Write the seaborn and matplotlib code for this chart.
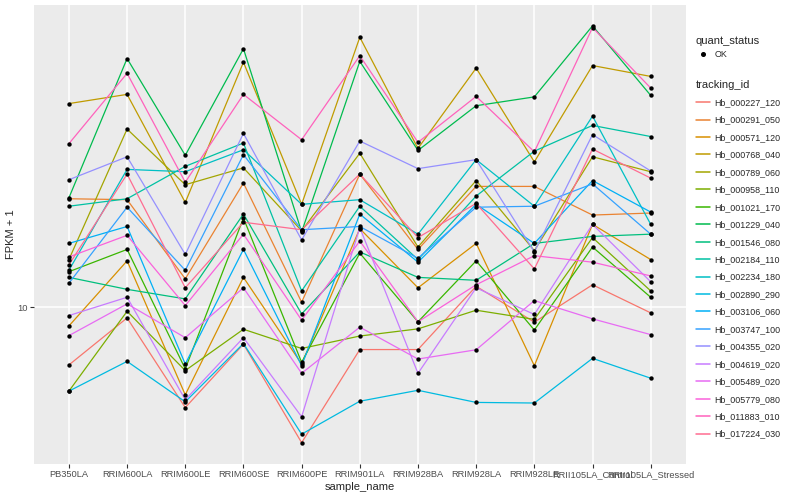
import pandas as pd
import seaborn as sns
import matplotlib.pyplot as plt
from matplotlib.lines import Line2D
from matplotlib.ticker import NullLocator

samples = ["PB350LA", "RRIM600LA", "RRIM600LE", "RRIM600SE", "RRIM600PE", "RRIM901LA",
           "RRIM928BA", "RRIM928LA", "RRIM928LE", "RRII105LA_Control", "RRII105LA_Stressed"]

tracking_ids = ["Hb_000227_120", "Hb_000291_050", "Hb_000571_120", "Hb_000768_040",
                "Hb_000789_060", "Hb_000958_110", "Hb_001021_170", "Hb_001229_040",
                "Hb_001546_080", "Hb_002184_110", "Hb_002234_180", "Hb_002890_290",
                "Hb_003106_060", "Hb_003747_100", "Hb_004355_020", "Hb_004619_020",
                "Hb_005489_020", "Hb_005779_080", "Hb_011883_010", "Hb_017224_030"]

# ggplot default hue palette for 20 levels
colors = ["#F8766D", "#EA8331", "#D89000", "#C09B00", "#A3A500", "#7CAE00", "#39B600",
          "#00BB4E", "#00BF7D", "#00C1A3", "#00BFC4", "#00BAE0", "#00B0F6", "#35A2FF",
          "#9590FF", "#C77CFF", "#E76BF3", "#FA62DB", "#FF62BC", "#FF6C91"]

# FPKM + 1 per sample, in the order of samples
hb_000227_120 = [7.15, 9.40, 5.58, 8.07, 4.55, 7.82, 7.82, 11.3, 9.17, 11.4, 9.68]
hb_000291_050 = [18.8, 18.7, 11.8, 20.6, 10.3, 21.7, 14.0, 20.2, 20.2, 17.1, 17.3]
hb_000571_120 = [8.97, 13.1, 6.01, 11.9, 7.19, 15.8, 11.2, 14.5, 7.12, 16.2, 13.2]
hb_000768_040 = [32.7, 34.5, 18.4, 41.6, 18.2, 48.1, 25.2, 40.2, 23.3, 40.8, 38.3]
hb_000789_060 = [13.2, 28.2, 20.4, 22.5, 15.6, 24.5, 14.2, 20.9, 13.9, 24.0, 22.0]
hb_000958_110 = [6.14, 9.77, 6.92, 8.80, 7.87, 8.46, 8.82, 9.83, 9.32, 15.0, 11.0]
hb_001021_170 = [12.3, 14.0, 6.99, 16.8, 7.26, 13.7, 9.19, 13.1, 8.76, 14.2, 10.6]
hb_001229_040 = [18.9, 42.5, 24.2, 45.0, 15.5, 41.8, 24.9, 32.3, 34.0, 51.4, 34.3]
hb_001546_080 = [11.9, 11.1, 10.5, 17.2, 9.62, 13.8, 11.9, 11.7, 14.5, 15.1, 15.3]
hb_002184_110 = [18.0, 18.8, 22.7, 26.0, 11.0, 18.0, 13.2, 19.1, 24.8, 28.8, 27.0]
hb_002234_180 = [12.4, 22.3, 22.0, 25.0, 18.2, 18.7, 15.3, 23.6, 18.0, 30.4, 16.2]
hb_002890_290 = [6.14, 7.30, 5.77, 8.10, 4.78, 5.79, 6.17, 5.75, 5.73, 7.43, 6.62]
hb_003106_060 = [14.5, 16.0, 7.19, 14.0, 7.12, 17.2, 13.0, 18.2, 14.5, 20.9, 17.4]
hb_003747_100 = [11.5, 17.9, 12.4, 24.3, 15.7, 16.0, 13.3, 17.9, 18.0, 20.5, 15.3]
hb_004355_020 = [21.0, 24.0, 13.6, 27.5, 14.8, 26.3, 22.4, 23.6, 13.8, 27.3, 22.1]
hb_004619_020 = [9.53, 10.6, 5.84, 8.38, 5.29, 15.9, 6.81, 11.2, 9.59, 16.2, 11.6]
hb_005489_020 = [8.48, 10.2, 8.38, 11.2, 6.81, 8.91, 7.40, 7.81, 10.4, 9.35, 8.53]
hb_005779_080 = [13.4, 15.2, 10.1, 15.3, 9.28, 14.7, 9.19, 11.4, 13.5, 13.0, 12.0]
hb_011883_010 = [25.9, 39.0, 20.7, 34.5, 26.5, 43.2, 26.1, 34.1, 24.7, 50.9, 35.8]
hb_017224_030 = [12.8, 21.7, 11.2, 16.4, 15.7, 21.7, 15.0, 18.3, 12.5, 25.1, 21.2]

series = [hb_000227_120, hb_000291_050, hb_000571_120, hb_000768_040, hb_000789_060,
          hb_000958_110, hb_001021_170, hb_001229_040, hb_001546_080, hb_002184_110,
          hb_002234_180, hb_002890_290, hb_003106_060, hb_003747_100, hb_004355_020,
          hb_004619_020, hb_005489_020, hb_005779_080, hb_011883_010, hb_017224_030]

rows = []
for tid, vals in zip(tracking_ids, series):
    for s, v in zip(samples, vals):
        rows.append({"tracking_id": tid, "sample_name": s, "fpkm": v, "quant_status": "OK"})
df = pd.DataFrame(rows)
df["pos"] = pd.Categorical(df["sample_name"], categories=samples).codes

sns.set_theme(style="darkgrid", rc={
    "axes.facecolor": "#EBEBEB",
    "grid.color": "white",
    "grid.linewidth": 1.1,
    "xtick.color": "#333333",
    "ytick.color": "#333333",
})
plt.rcParams["font.family"] = ["Liberation Sans", "DejaVu Sans"]

fig, ax = plt.subplots(figsize=(8, 5), dpi=100)
fig.subplots_adjust(left=0.0425, right=0.857, top=0.99, bottom=0.073)

sns.lineplot(data=df, x="pos", y="fpkm", hue="tracking_id", hue_order=tracking_ids,
             palette=colors, estimator=None, sort=False, linewidth=0.9, legend=False, ax=ax)
sns.scatterplot(data=df, x="pos", y="fpkm", color="black", s=10, linewidth=0,
                marker="o", legend=False, ax=ax, zorder=3)

ax.set_yscale("log")
ax.set_yticks([10])
ax.set_yticklabels(["10"])
ax.yaxis.set_minor_locator(NullLocator())
ax.set_xticks(range(len(samples)))
ax.set_xticklabels(samples)
ax.set_xlim(-0.6, len(samples) - 0.4)
ax.margins(y=0.05)
ax.grid(True, which="major", color="white", linewidth=1.1)
for sp in ax.spines.values():
    sp.set_visible(False)
ax.tick_params(axis="both", length=3, width=0.8, labelsize=6.7, labelcolor="#4D4D4D",
               pad=1.5, bottom=True, left=True)
ax.set_xlabel("sample_name", fontsize=8, labelpad=2)
ax.set_ylabel("FPKM + 1", fontsize=8, labelpad=1)

status_handle = [Line2D([], [], marker="o", color="black", linestyle="", markersize=2.6)]
leg1 = fig.legend(handles=status_handle, labels=["OK"], title="quant_status",
                  loc="upper left", bbox_to_anchor=(0.862, 0.941), frameon=False,
                  fontsize=6.4, title_fontsize=8, alignment="left", borderpad=0.2,
                  handlelength=1.6, handletextpad=0.5)

id_handles = [Line2D([], [], color=c, linewidth=1.1) for c in colors]
leg2 = fig.legend(handles=id_handles, labels=tracking_ids, title="tracking_id",
                  loc="upper left", bbox_to_anchor=(0.862, 0.853), frameon=False,
                  fontsize=6.4, title_fontsize=8, alignment="left", borderpad=0.2,
                  handlelength=1.6, handletextpad=0.5, labelspacing=0.95)

fig.savefig("out.png", dpi=100)
